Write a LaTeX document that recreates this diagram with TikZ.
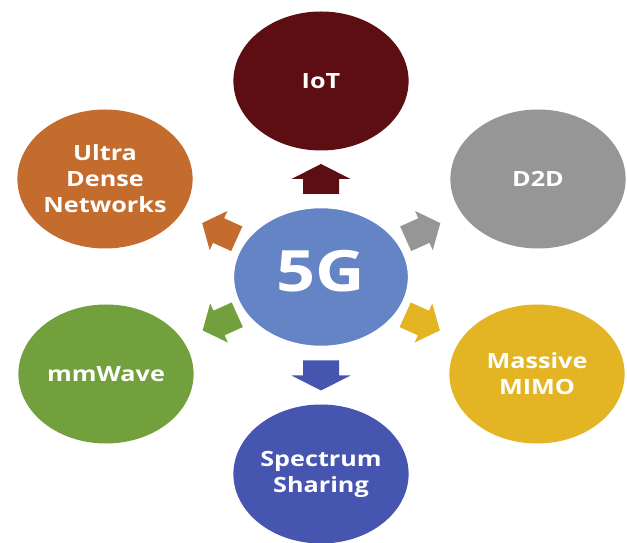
\documentclass[tikz,border=0pt]{standalone}
\usepackage{fontspec}
\setmainfont{Open Sans}
\usetikzlibrary{positioning,calc,shapes.geometric}

\definecolor{fivegblue}{RGB}{101,132,198}
\definecolor{iotred}{RGB}{92,14,18}
\definecolor{dtwodgray}{RGB}{150,150,150}
\definecolor{mimogold}{RGB}{227,180,36}
\definecolor{specblue}{RGB}{70,86,176}
\definecolor{mmgreen}{RGB}{114,160,60}
\definecolor{udnorange}{RGB}{196,108,46}

\tikzset{
  bubble/.style={ellipse, fill=#1, xscale=1.2, minimum width=146pt,
    minimum height=139pt, inner sep=0pt, text=white, align=center,
    font=\bfseries\fontsize{21}{26}\selectfont},
  % length, head length, head width, shaft width, colour
  pics/blockarr/.style n args={5}{code={
    \fill[#5] (-#1/2,-#4/2) -- (#1/2-#2,-#4/2) -- (#1/2-#2,-#3/2) -- (#1/2,0)
      -- (#1/2-#2,#3/2) -- (#1/2-#2,#4/2) -- (-#1/2,#4/2) -- cycle;
  }}
}

\begin{document}
\begin{tikzpicture}[x=1pt,y=1pt]
  \useasboundingbox[fill=white] (0,0) rectangle (627,543);

  \node[bubble=fivegblue, draw=white, line width=1.5pt,
        font=\bfseries\fontsize{57}{57}\selectfont] (gc) at (321,266)
        {\raisebox{12pt}{5G}};
  \node[bubble=iotred] (iot) at ($(gc)+(0,196)$) {IoT};
  \node[bubble=specblue] (spec) at ($(gc)+(0,-197)$) {Spectrum\\Sharing};
  \node[bubble=udnorange] (udn) at ($(gc)+(-216,98)$) {Ultra\\Dense\\Networks};
  \node[bubble=dtwodgray] (d2d) at ($(gc)+(217,98)$) {D2D};
  \node[bubble=mmgreen] (mmw) at ($(gc)+(-215,-97)$) {mmWave};
  \node[bubble=mimogold] (mimo) at ($(gc)+(216,-97)$) {Massive\\MIMO};

  \pic[rotate=90] at ($(gc)!0.5!(iot)$) {blockarr={30}{15}{59}{36}{iotred}};
  \pic[rotate=-90] at ($(gc)!0.5!(spec)$) {blockarr={30}{15}{59}{36}{specblue}};
  \pic[rotate=155.6] at ($(gc)!0.47!(udn)$) {blockarr={38}{18}{43}{27}{udnorange}};
  \pic[rotate=24.3] at ($(gc)!0.47!(d2d)$) {blockarr={38}{18}{43}{27}{dtwodgray}};
  \pic[rotate=204.3] at ($(gc)!0.47!(mmw)$) {blockarr={38}{18}{43}{27}{mmgreen}};
  \pic[rotate=-24.2] at ($(gc)!0.47!(mimo)$) {blockarr={38}{18}{43}{27}{mimogold}};
\end{tikzpicture}
\end{document}
